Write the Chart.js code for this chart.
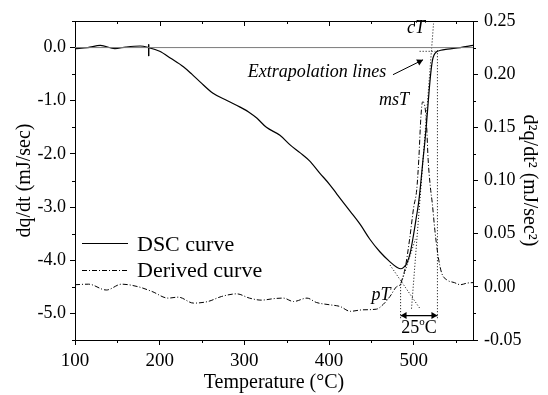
<!DOCTYPE html>
<html>
<head>
<meta charset="utf-8">
<script src="https://cdn.jsdelivr.net/npm/chart.js@4.4.1/dist/chart.umd.min.js"></script>
<style>
html, body { margin: 0; padding: 0; background: #fff; }
</style>
</head>
<body>
<canvas id="chart1" width="548" height="395"></canvas>
<script>
// DSC curve, left axis (mJ/sec)
const dscTemp = [100, 115, 130, 147, 160, 177, 187, 200, 213, 228, 238, 248, 263, 280, 295, 305, 315, 326, 342, 354, 366, 377, 389, 401, 409, 425, 437, 448, 460, 472, 480, 485, 489, 492, 496, 500, 503, 505.5, 508, 511, 513, 515, 518, 520, 522, 524, 527, 532, 540, 555, 570];
const dscHeat = [-0.02, 0.0, 0.04, -0.02, 0.01, 0.03, 0.0, -0.07, -0.2, -0.36, -0.5, -0.65, -0.86, -1.0, -1.12, -1.21, -1.33, -1.5, -1.65, -1.83, -1.98, -2.13, -2.36, -2.58, -2.75, -3.08, -3.33, -3.6, -3.84, -4.03, -4.13, -4.16, -4.12, -4.05, -3.85, -3.5, -3.2, -2.95, -2.6, -2.1, -1.8, -1.45, -0.85, -0.5, -0.25, -0.14, -0.08, -0.05, -0.03, 0.0, 0.04];

// derived curve, right axis (mJ/sec^2)
const derTemp = [100, 116, 137, 155, 175, 191, 210, 222, 240, 257, 273, 291, 306, 320, 336, 346, 358, 374, 385, 401, 413, 425, 440, 456, 464, 472, 480, 484, 487, 490, 495, 500, 503.5, 506, 508.5, 510.5, 512.5, 515, 517, 519.5, 522, 525, 529, 533, 539, 548, 555, 563, 570];
const derRate = [0.002, 0.0025, -0.003, 0.0025, 0.0, -0.0044, -0.0106, -0.0097, -0.0153, -0.0138, -0.0091, -0.0066, -0.0106, -0.0125, -0.011, -0.0106, -0.0138, -0.0106, -0.0147, -0.0169, -0.0185, -0.023, -0.0216, -0.021, -0.0165, -0.009, 0.0003, 0.002, 0.009, 0.018, 0.044, 0.075, 0.091, 0.12, 0.16, 0.174, 0.172, 0.155, 0.12, 0.095, 0.078, 0.053, 0.028, 0.013, 0.0066, 0.004, 0.002, 0.0035, 0.004];

// construction lines, [temperature, dq/dt]
const baseLine = [[100, 0], [570, 0]];
const onsetMark = [[187, 0.06], [187, -0.16]];
const fallTangent = [[472, -4.09], [507.4, -4.91]];
const pTangent = [[484.5, -4.47], [502, -3.6]];
const riseTangent = [[497.4, -4.91], [523.4, 0.45]];
const upperBase = [[507, -0.07], [525.5, -0.07]];
const leftDrop = [[484.5, -4.45], [484.5, -5.09]];
const rightDrop = [[528, -0.05], [528, -5.09]];
const spanArrow = [[484.5, -5.04], [528, -5.04]];
const spanHeads = [[489.2, -5.04], [523.3, -5.04]];
const noteArrow = [[475.5, -0.51], [511, -0.23]];
const noteHead = [[506.8, -0.264]];

const xTicks = [100, 200, 300, 400, 500];
const xMinor = [150, 250, 350, 450, 550];
const yTicks = [-5, -4, -3, -2, -1, 0];
const yMinor = [-5.5, -4.5, -3.5, -2.5, -1.5, -0.5, 0.5];
const y2Ticks = [-0.05, 0, 0.05, 0.1, 0.15, 0.2, 0.25];
const y2Minor = [-0.025, 0.025, 0.075, 0.125, 0.175, 0.225];

const serif = '"Liberation Serif", "Times New Roman", serif';

const pts = (ts, vs) => ts.map((t, i) => ({x: t, y: vs[i]}));
const seg = pairs => pairs.map(p => ({x: p[0], y: p[1]}));

function guide(pairs, dash, extra) {
    return Object.assign({
        data: seg(pairs),
        borderColor: '#000',
        borderWidth: 1,
        borderDash: dash,
        pointRadius: 0,
        yAxisID: 'y'
    }, extra || {});
}

// frame, minor ticks, annotations and legend
const decor = {
    id: 'decor',
    afterDraw(chart) {
        const ctx = chart.ctx;
        const a = chart.chartArea;
        const x = chart.scales.x, y = chart.scales.y, y2 = chart.scales.y2;
        const px = v => Math.round(x.getPixelForValue(v)) + 0.5;
        const py = v => Math.round(y.getPixelForValue(v)) + 0.5;
        const py2 = v => Math.round(y2.getPixelForValue(v)) + 0.5;

        ctx.save();
        ctx.strokeStyle = '#000';
        ctx.lineWidth = 1;
        ctx.beginPath();
        ctx.moveTo(a.left, Math.round(a.top) + 0.5);
        ctx.lineTo(a.right, Math.round(a.top) + 0.5);
        xTicks.forEach(t => { ctx.moveTo(px(t), a.top); ctx.lineTo(px(t), a.top + 5); });
        xMinor.forEach(t => {
            ctx.moveTo(px(t), a.top); ctx.lineTo(px(t), a.top + 3);
            ctx.moveTo(px(t), a.bottom); ctx.lineTo(px(t), a.bottom + 3);
        });
        yMinor.forEach(v => { ctx.moveTo(a.left, py(v)); ctx.lineTo(a.left - 3, py(v)); });
        y2Minor.forEach(v => { ctx.moveTo(a.right, py2(v)); ctx.lineTo(a.right + 3, py2(v)); });
        ctx.stroke();

        ctx.fillStyle = '#000';
        ctx.textBaseline = 'middle';
        ctx.textAlign = 'center';
        ctx.font = 'italic 18px ' + serif;
        ctx.fillText('cT', x.getPixelForValue(502.7), y.getPixelForValue(0.36));
        ctx.fillText('msT', x.getPixelForValue(476.7), y.getPixelForValue(-1.0));
        ctx.fillText('pT', x.getPixelForValue(461.4), y.getPixelForValue(-4.66));
        ctx.fillText('Extrapolation lines', x.getPixelForValue(385.8), y.getPixelForValue(-0.47));

        // 25 oC, with a raised o
        ctx.font = '18px ' + serif;
        const cx = x.getPixelForValue(506.3), cy = y.getPixelForValue(-5.27);
        ctx.textAlign = 'left';
        const w25 = ctx.measureText('25').width;
        ctx.font = '11px ' + serif;
        const wo = ctx.measureText('o').width;
        ctx.font = '18px ' + serif;
        const wC = ctx.measureText('C').width;
        let sx = cx - (w25 + wo + wC) / 2;
        ctx.fillText('25', sx, cy);
        ctx.font = '11px ' + serif;
        ctx.fillText('o', sx + w25, cy - 6);
        ctx.font = '18px ' + serif;
        ctx.fillText('C', sx + w25 + wo, cy);

        // legend
        ctx.beginPath();
        ctx.lineWidth = 1.2;
        ctx.moveTo(82, 243.5); ctx.lineTo(128, 243.5);
        ctx.stroke();
        ctx.beginPath();
        ctx.lineWidth = 1;
        ctx.setLineDash([5, 2, 1, 2]);
        ctx.moveTo(82, 270.5); ctx.lineTo(128, 270.5);
        ctx.stroke();
        ctx.setLineDash([]);
        ctx.font = '22px ' + serif;
        ctx.fillText('DSC curve', 137, 245);
        ctx.fillText('Derived curve', 137, 271);
        ctx.restore();
    }
};

function tickGrid() {
    return {display: true, drawOnChartArea: false, drawTicks: true, tickLength: 5, color: '#000', tickColor: '#000', lineWidth: 1};
}

new Chart(document.getElementById('chart1'), {
    type: 'line',
    data: {
        datasets: [
            guide(baseLine, [], {borderColor: '#7a7a7a'}),
            guide(onsetMark, []),
            guide(fallTangent, [1, 2]),
            guide(pTangent, [1, 2]),
            guide(riseTangent, [1, 2]),
            guide(upperBase, [1, 2]),
            guide(leftDrop, [1, 2]),
            guide(rightDrop, [1, 2]),
            guide(spanArrow, [], {borderWidth: 1.2}),
            guide(spanHeads, [], {showLine: false, pointStyle: 'triangle', pointRadius: 4, pointRotation: [-90, 90], pointBackgroundColor: '#000', pointBorderColor: '#000', pointBorderWidth: 0}),
            guide(noteArrow, []),
            guide(noteHead, [], {showLine: false, pointStyle: 'triangle', pointRadius: 4, pointRotation: 63, pointBackgroundColor: '#000', pointBorderColor: '#000', pointBorderWidth: 0}),
            {
                label: 'Derived curve',
                data: pts(derTemp, derRate),
                borderColor: '#000',
                borderWidth: 1,
                borderDash: [5, 2, 1, 2],
                pointRadius: 0,
                cubicInterpolationMode: 'monotone',
                yAxisID: 'y2'
            },
            {
                label: 'DSC curve',
                data: pts(dscTemp, dscHeat),
                borderColor: '#000',
                borderWidth: 1.2,
                pointRadius: 0,
                cubicInterpolationMode: 'monotone',
                yAxisID: 'y'
            }
        ]
    },
    options: {
        responsive: false,
        animation: false,
        devicePixelRatio: 1,
        layout: {padding: {top: 21, left: 0, right: 0, bottom: 0}},
        plugins: {legend: {display: false}, tooltip: {enabled: false}},
        scales: {
            x: {
                type: 'linear', position: 'bottom', min: 100, max: 570,
                afterBuildTicks: s => { s.ticks = xTicks.map(v => ({value: v})); },
                afterFit: s => { s.height = 55; },
                grid: tickGrid(),
                border: {display: true, color: '#000', width: 1},
                ticks: {color: '#000', padding: 5, maxRotation: 0, font: {family: serif, size: 19}, callback: v => String(v)},
                title: {display: true, text: 'Temperature (°C)', color: '#000', font: {family: serif, size: 20}, padding: {top: 0, bottom: 0}}
            },
            y: {
                type: 'linear', position: 'left', min: -5.5, max: 0.5,
                afterBuildTicks: s => { s.ticks = yTicks.map(v => ({value: v})); },
                afterFit: s => { s.width = 75; },
                grid: tickGrid(),
                border: {display: true, color: '#000', width: 1},
                ticks: {color: '#000', padding: 4, font: {family: serif, size: 18}, callback: v => v.toFixed(1)},
                title: {display: true, text: 'dq/dt (mJ/sec)', color: '#000', font: {family: serif, size: 20}, padding: {top: 13, bottom: 0}}
            },
            y2: {
                type: 'linear', position: 'right', min: -0.05, max: 0.25,
                afterBuildTicks: s => { s.ticks = y2Ticks.map(v => ({value: v})); },
                afterFit: s => { s.width = 75; },
                grid: tickGrid(),
                border: {display: true, color: '#000', width: 1},
                ticks: {color: '#000', padding: 6, font: {family: serif, size: 18}, callback: v => v.toFixed(2)},
                title: {display: true, text: 'd²q/dt² (mJ/sec²)', color: '#000', font: {family: serif, size: 20}, padding: {top: 7, bottom: 0}}
            }
        }
    },
    plugins: [decor]
});
</script>
</body>
</html>
